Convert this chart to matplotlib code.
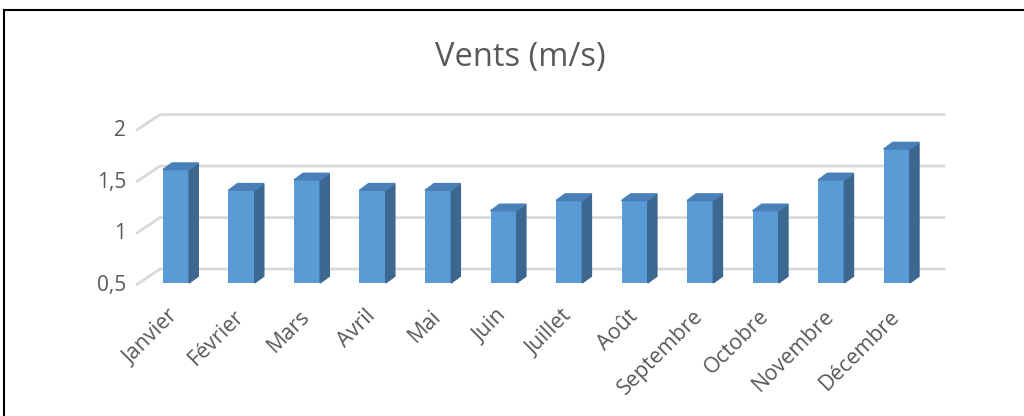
import matplotlib.pyplot as plt
from matplotlib.patches import Polygon
from matplotlib.lines import Line2D

mois = ['Janvier', 'Février', 'Mars', 'Avril', 'Mai', 'Juin', 'Juillet',
        'Août', 'Septembre', 'Octobre', 'Novembre', 'Décembre']
vents = [1.6, 1.4, 1.5, 1.4, 1.4, 1.2, 1.3, 1.3, 1.3, 1.2, 1.5, 1.8]
graduations = [0.5, 1, 1.5, 2]
etiquettes_y = ['0,5', '1', '1,5', '2']

plt.rcParams['font.family'] = ['Open Sans', 'DejaVu Sans']
gris = '#595959'
face = '#5b9bd5'
cote = '#3b6791'
dessus = '#4a80b8'

fig = plt.figure(figsize=(10.24, 4.16), dpi=100)
ax = fig.add_axes([0.1143, 0.2901, 0.8574, 0.4704])
ax.set_xlim(-0.9, 12.5)
ax.set_ylim(0.4, 2.3)
ax.axis('off')

# profondeur 3D (en unites de donnees)
fond_dx, fond_dy = 0.366, 0.155
barre_dx, barre_dy = 0.14, 0.065
largeur = 0.4
base = 0.5
recul = 0.02  # les barres sont un peu en retrait du plan avant

# grille : diagonale gauche + ligne du fond
for g in graduations:
    ax.plot([-0.61, -0.61 + fond_dx, 11.74], [g, g + fond_dy, g + fond_dy],
            color='#d9d9d9', lw=2, zorder=1, solid_capstyle='butt')

for i, v in enumerate(vents):
    x0, x1 = i - largeur / 2, i + largeur / 2
    b, t = base + recul, v + recul
    ax.bar(i, v - base, bottom=b, width=largeur, color=face, zorder=3)
    ax.add_patch(Polygon([(x1, b), (x1 + barre_dx, b + barre_dy),
                          (x1 + barre_dx, t + barre_dy), (x1, t)],
                         closed=True, color=cote, zorder=3))
    ax.add_patch(Polygon([(x0, t), (x1, t), (x1 + barre_dx, t + barre_dy),
                          (x0 + barre_dx, t + barre_dy)],
                         closed=True, color=dessus, zorder=3))
    ax.text(i - 0.12, 0.3, mois[i], rotation=45, rotation_mode='anchor',
            ha='right', va='top', fontsize=15.5, color=gris)

for g, lab in zip(graduations, etiquettes_y):
    ax.text(-0.76, g, lab, ha='right', va='center', fontsize=15, color=gris)

fig.text(0.508, 0.862, 'Vents (m/s)', ha='center', va='center',
         fontsize=23.5, color=gris)

# cadre du graphique (coupe a droite et en bas)
fig.add_artist(Line2D([4 / 1024, 4 / 1024], [0, 1 - 10 / 416], color='black', lw=1.5))
fig.add_artist(Line2D([4 / 1024, 1], [1 - 10 / 416, 1 - 10 / 416], color='black', lw=1.5))

fig.savefig('out.png', dpi=100)
